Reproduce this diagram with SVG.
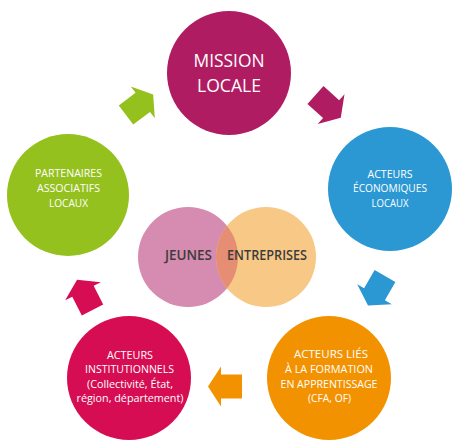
<svg xmlns="http://www.w3.org/2000/svg" width="455" height="447" viewBox="0 0 455 447">
<style>
.t{font-family:"Open Sans","Liberation Sans",sans-serif;fill:#fff;text-anchor:middle;font-size:11px;font-weight:500}
.big{font-size:17.5px;font-weight:500}
.v{font-family:"Open Sans","Liberation Sans",sans-serif;fill:#3c3c3b;text-anchor:middle;font-size:14.5px;font-weight:600}
</style>
<defs>
<polygon id="arr" points="0,-12 21,-12 21,-20 34,0 21,20 21,12 0,12"/>
<clipPath id="pinkclip"><circle cx="188" cy="257" r="50"/></clipPath>
</defs>
<rect width="455" height="447" fill="#fff"/>
<g id="connectors">
<use href="#arr" fill="#b01c62" transform="translate(315.5,95) rotate(42)"/>
<use href="#arr" fill="#2b98d4" transform="translate(385,276) rotate(120)"/>
<use href="#arr" fill="#f39200" transform="translate(242,386.5) rotate(180)"/>
<use href="#arr" fill="#d60d52" transform="translate(92.5,310) rotate(243)"/>
<use href="#arr" fill="#95c11f" transform="translate(126,115) rotate(-37)"/>
</g>
<g id="mission">
<circle cx="229" cy="73" r="62" fill="#b01c62"/>
<text class="t big" x="229" y="67" textLength="71" lengthAdjust="spacingAndGlyphs">MISSION</text>
<text class="t big" x="229" y="92" textLength="64" lengthAdjust="spacingAndGlyphs">LOCALE</text>
</g>
<g id="economiques">
<circle cx="390" cy="189" r="62" fill="#2b98d4"/>
<text class="t" x="390" y="178" textLength="45" lengthAdjust="spacingAndGlyphs">ACTEURS</text>
<text class="t" x="390" y="192" textLength="74" lengthAdjust="spacingAndGlyphs">ÉCONOMIQUES</text>
<text class="t" x="390" y="207" textLength="37" lengthAdjust="spacingAndGlyphs">LOCAUX</text>
</g>
<g id="formation">
<circle cx="329" cy="378" r="62" fill="#f39200"/>
<text class="t" x="331" y="358" textLength="74" lengthAdjust="spacingAndGlyphs">ACTEURS LIÉS</text>
<text class="t" x="329" y="373" textLength="88" lengthAdjust="spacingAndGlyphs">À LA FORMATION</text>
<text class="t" x="329" y="388" textLength="97" lengthAdjust="spacingAndGlyphs">EN APPRENTISSAGE</text>
<text class="t" x="329.5" y="402" textLength="43" lengthAdjust="spacingAndGlyphs">(CFA, OF)</text>
</g>
<g id="institutionnels">
<circle cx="129" cy="378" r="62" fill="#d60d52"/>
<text class="t" x="130" y="359" textLength="46" lengthAdjust="spacingAndGlyphs">ACTEURS</text>
<text class="t" x="129.5" y="373" textLength="89" lengthAdjust="spacingAndGlyphs">INSTITUTIONNELS</text>
<text class="t" x="130" y="388" textLength="86" lengthAdjust="spacingAndGlyphs">(Collectivité, État,</text>
<text class="t" x="130" y="402" textLength="107" lengthAdjust="spacingAndGlyphs">région, département)</text>
</g>
<g id="partenaires">
<circle cx="68" cy="195" r="61" fill="#95c11f"/>
<text class="t" x="68.5" y="177" textLength="67" lengthAdjust="spacingAndGlyphs">PARTENAIRES</text>
<text class="t" x="68.5" y="192" textLength="63" lengthAdjust="spacingAndGlyphs">ASSOCIATIFS</text>
<text class="t" x="68.5" y="207" textLength="39" lengthAdjust="spacingAndGlyphs">LOCAUX</text>
</g>
<g id="jeunes">
<circle cx="188" cy="257" r="50" fill="#d68bb1"/>
</g>
<g id="entreprises">
<circle cx="266" cy="257" r="50" fill="#f8c887"/>
<circle cx="266" cy="257" r="50" fill="#e58e74" clip-path="url(#pinkclip)"/>
</g>
<g id="labels">
<text class="v" x="188.5" y="260" textLength="47" lengthAdjust="spacingAndGlyphs">JEUNES</text>
<text class="v" x="267" y="260" textLength="80" lengthAdjust="spacingAndGlyphs">ENTREPRISES</text>
</g>
</svg>
